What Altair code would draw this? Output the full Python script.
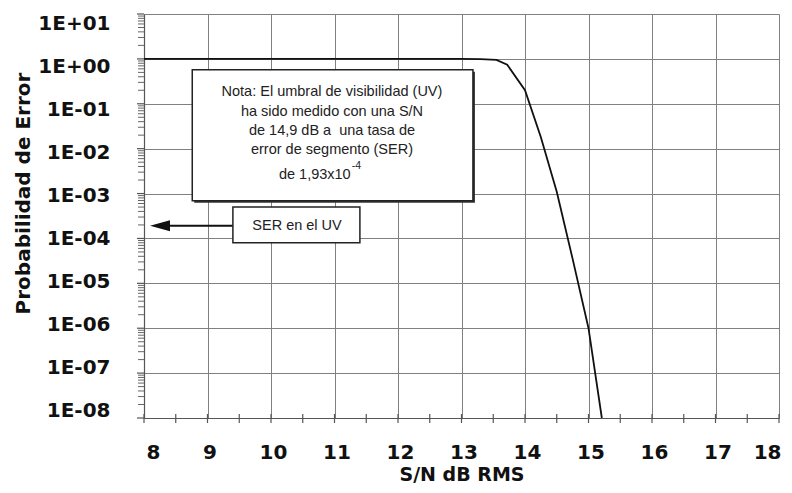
import altair as alt
import pandas as pd

# ---- data ----
SNR_DB = [8, 9, 10, 11, 12, 13, 13.3, 13.55, 13.72, 14.0, 14.25, 14.5, 14.75, 15.0, 15.21]
P_ERROR = [1, 1, 1, 1, 1, 1, 0.99, 0.95, 0.74, 0.2, 0.018, 1.1e-3, 3.5e-5, 1e-6, 1e-8]

X_TICKS = [8, 9, 10, 11, 12, 13, 14, 15, 16, 17, 18]
X_MINOR = [8, 8.5, 9, 9.5, 10, 10.5, 11, 11.5, 12, 12.5, 13, 13.5, 14, 14.5,
           15, 15.5, 16, 16.5, 17, 17.5, 18]
Y_TICKS = [1e-8, 1e-7, 1e-6, 1e-5, 1e-4, 1e-3, 1e-2, 1e-1, 1e0, 1e1]
Y_MINOR = [k * 10.0 ** d for d in range(-8, 1) for k in range(2, 10)]

NOTE_LINES = ["Nota: El umbral de visibilidad (UV)",
              "ha sido medido con una S/N",
              "de 14,9 dB a\u00a0 una tasa de",
              "error de segmento (SER)"]
NOTE_LINE_Y = [0.184, 0.066, 0.0249, 0.0094]
NOTE_X = 10.96
NOTE_LAST = "de 1,93x10"
NOTE_LAST_X = 11.255
NOTE_LAST_Y = 0.0026
NOTE_SUP = "-4"
NOTE_SUP_Y = 0.0041
NOTE_BOX_X = [8.76, 13.18]
NOTE_BOX_Y = [0.57, 6.9e-4]

SER_VALUE = 1.93e-4
SER_LABEL = "SER en el UV"
SER_LABEL_X = 10.41
SER_BOX_X = [9.40, 11.40]
SER_BOX_Y = [5.0e-4, 8.0e-5]
ARROW_X = [8.41, 9.40]
ARROW_HEAD_X = 8.252

W, H = 635, 404
XS = alt.Scale(domain=[8, 18], nice=False, zero=False)
YS = alt.Scale(type="log", domain=[1e-8, 10], nice=False)
BOLD = "DejaVu Sans"
REG = "Liberation Sans"
GRID = "#808080"
FS = 14.5

y_label_expr = ("'1E' + (datum.value >= 1 ? '+' : '-') + "
                "(abs(round(log(datum.value)/LN10)) < 10 ? '0' : '') + "
                "abs(round(log(datum.value)/LN10))")
y_label_offset = "1.9 * (round(log(datum.value)/LN10) + 4)"

X_AXIS = alt.Axis(
    values=X_TICKS, grid=True, gridColor=GRID, gridOpacity=1, gridWidth=1,
    ticks=False, domainColor="#555555", domainWidth=1.2,
    labelFont=BOLD, labelFontWeight="bold", labelFontSize=20, labelColor="#111111",
    labelPadding=24, labelOffset=2, title="S/N dB RMS", titleFont=BOLD,
    titleFontWeight="bold", titleFontSize=19, titleColor="#111111",
    titleY=62, titleBaseline="alphabetic")
Y_AXIS = alt.Axis(
    values=Y_TICKS, grid=True, gridColor=GRID, gridOpacity=1, gridWidth=1,
    ticks=False, domainColor="#555555", domainWidth=1.2,
    labelExpr=y_label_expr, labelOffset=alt.ExprRef(expr=y_label_offset),
    labelFont=BOLD, labelFontWeight="bold",
    labelFontSize=20, labelColor="#111111", labelPadding=34,
    title="Probabilidad de Error", titleFont=BOLD, titleFontWeight="bold",
    titleFontSize=20, titleColor="#111111", titleX=-115, titleY=179,
    titleBaseline="alphabetic", titleAngle=270)


def X(f):
    return alt.X(f, scale=XS, axis=X_AXIS)


def Y(f):
    return alt.Y(f, scale=YS, axis=Y_AXIS)


curve_df = pd.DataFrame({"snr": SNR_DB, "pe": P_ERROR})
curve = alt.Chart(curve_df).mark_line(color="#111111", strokeWidth=1.8).encode(
    x=X("snr:Q"), y=Y("pe:Q"))

ymin_df = pd.DataFrame({"v": Y_MINOR})
y_minor = alt.Chart(ymin_df).mark_rule(color="#666666", strokeWidth=1).encode(
    y=Y("v:Q"), x=alt.value(-6), x2=alt.value(0))
ymaj_df = pd.DataFrame({"v": Y_TICKS})
y_major = alt.Chart(ymaj_df).mark_rule(color="#555555", strokeWidth=1.2).encode(
    y=Y("v:Q"), x=alt.value(-7), x2=alt.value(0))
xmin_df = pd.DataFrame({"v": X_MINOR})
x_minor = alt.Chart(xmin_df).mark_rule(color="#555555", strokeWidth=1.2).encode(
    x=X("v:Q"), y=alt.value(H - 4), y2=alt.value(H + 5))

note_box_df = pd.DataFrame({"x": [NOTE_BOX_X[0]], "x2": [NOTE_BOX_X[1]],
                            "y": [NOTE_BOX_Y[0]], "y2": [NOTE_BOX_Y[1]]})
note_shadow = alt.Chart(note_box_df).mark_rect(fill="#333333", xOffset=2, yOffset=2,
                                               x2Offset=2, y2Offset=2).encode(
    x=X("x:Q"), x2="x2:Q", y=Y("y:Q"), y2="y2:Q")
note_box = alt.Chart(note_box_df).mark_rect(fill="white", stroke="#222222",
                                            strokeWidth=1.5).encode(
    x=X("x:Q"), x2="x2:Q", y=Y("y:Q"), y2="y2:Q")

note_df = pd.DataFrame({"t": NOTE_LINES, "y": NOTE_LINE_Y, "x": [NOTE_X] * len(NOTE_LINES)})
note_text = alt.Chart(note_df).mark_text(font=REG, fontSize=FS, color="#222222",
                                         align="center", baseline="middle").encode(
    x=X("x:Q"), y=Y("y:Q"), text="t:N")
last_df = pd.DataFrame({"t": [NOTE_LAST], "x": [NOTE_LAST_X], "y": [NOTE_LAST_Y]})
last_text = alt.Chart(last_df).mark_text(font=REG, fontSize=FS, color="#222222",
                                         align="right", baseline="middle").encode(
    x=X("x:Q"), y=Y("y:Q"), text="t:N")
sup_df = pd.DataFrame({"t": [NOTE_SUP], "x": [NOTE_LAST_X], "y": [NOTE_SUP_Y]})
sup_text = alt.Chart(sup_df).mark_text(font=REG, fontSize=10.5, color="#222222",
                                       align="left", baseline="middle", dx=1).encode(
    x=X("x:Q"), y=Y("y:Q"), text="t:N")

ser_box_df = pd.DataFrame({"x": [SER_BOX_X[0]], "x2": [SER_BOX_X[1]],
                           "y": [SER_BOX_Y[0]], "y2": [SER_BOX_Y[1]]})
ser_box = alt.Chart(ser_box_df).mark_rect(fill="white", stroke="#222222",
                                          strokeWidth=1.5).encode(
    x=X("x:Q"), x2="x2:Q", y=Y("y:Q"), y2="y2:Q")
ser_df = pd.DataFrame({"t": [SER_LABEL], "x": [SER_LABEL_X], "y": [SER_VALUE]})
ser_text = alt.Chart(ser_df).mark_text(font=REG, fontSize=FS, color="#222222",
                                       align="center", baseline="middle").encode(
    x=X("x:Q"), y=Y("y:Q"), text="t:N")

arrow_df = pd.DataFrame({"x": [ARROW_X[0]], "x2": [ARROW_X[1]], "y": [SER_VALUE]})
arrow = alt.Chart(arrow_df).mark_rule(color="#111111", strokeWidth=2).encode(
    x=X("x:Q"), x2="x2:Q", y=Y("y:Q"))
head_df = pd.DataFrame({"x": [ARROW_HEAD_X], "y": [SER_VALUE]})
head = alt.Chart(head_df).mark_point(shape="M -1 0 L 1 -0.55 L 1 0.55 Z", size=400,
                                     filled=True, color="#111111", opacity=1).encode(
    x=X("x:Q"), y=Y("y:Q"))

chart = alt.layer(
    curve, y_minor, y_major, x_minor, note_shadow, note_box, note_text, last_text, sup_text,
    arrow, head, ser_box, ser_text
).properties(
    width=W, height=H,
    autosize=alt.AutoSizeParams(type="none"),
    padding={"left": 136, "top": 6, "right": 5, "bottom": 67},
).configure_view(stroke=None).configure(background="white")

chart.save("out.html", embed_options={"renderer": "svg", "actions": False})
